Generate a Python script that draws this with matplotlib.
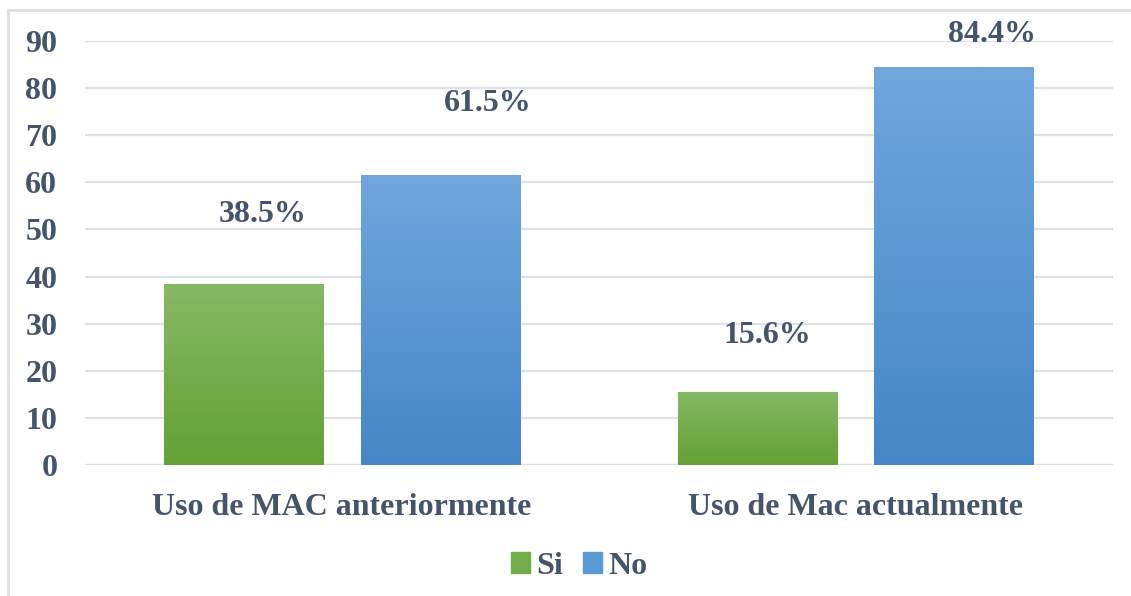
import numpy as np
import matplotlib
matplotlib.use("Agg")
import matplotlib.pyplot as plt
from matplotlib.colors import LinearSegmentedColormap
from matplotlib.lines import Line2D

# Data
categories = ["Uso de MAC anteriormente", "Uso de Mac actualmente"]
si_values = [38.5, 15.6]
no_values = [61.5, 84.4]
si_labels = ["38.5%", "15.6%"]
no_labels = ["61.5%", "84.4%"]
yticks = [0, 10, 20, 30, 40, 50, 60, 70, 80, 90]

text_color = "#44546A"
grid_color = "#DDE1E6"
green_top, green_bottom = "#86B964", "#62A133"
blue_top, blue_bottom = "#6FA7DD", "#4586C6"

plt.rcParams["font.family"] = ["Liberation Serif", "DejaVu Serif"]
plt.rcParams["font.weight"] = "bold"
plt.rcParams["font.size"] = 23

fig = plt.figure(figsize=(11.31, 5.96), dpi=100)
ax = fig.add_axes([0.0752, 0.2198, 0.9088, 0.7114])

x = np.arange(len(categories))
width = 0.311
offset = 0.1915


def gradient_bars(xpos, values, top, bottom, label):
    bars = ax.bar(xpos, values, width, color=bottom, label=label, zorder=2)
    cmap = LinearSegmentedColormap.from_list("g", [bottom, top])
    grad = np.linspace(0, 1, 256).reshape(-1, 1)
    for b in bars:
        x0 = b.get_x()
        h = b.get_height()
        im = ax.imshow(grad, extent=[x0, x0 + b.get_width(), 0, h], origin="lower",
                       cmap=cmap, aspect="auto", zorder=3)
        im.set_clip_path(b)
    return bars


gradient_bars(x - offset, si_values, green_top, green_bottom, "Si")
gradient_bars(x + offset, no_values, blue_top, blue_bottom, "No")

ax.set_xlim(-0.5, 1.5)
ax.set_ylim(0, 90)
ax.set_yticks(yticks)
ax.set_xticks(x)
ax.set_xticklabels(categories)
ax.tick_params(axis="y", length=0, pad=20, colors=text_color)
ax.tick_params(axis="x", length=0, pad=20, colors=text_color)
ax.yaxis.grid(True, color=grid_color, linewidth=1.6, zorder=0)
ax.set_axisbelow(True)
for s in ax.spines.values():
    s.set_visible(False)
ax.axhline(0, color=grid_color, linewidth=1.6, zorder=1)

# value labels, placed like the original (offsets in points from bar top)
si_off = [(14, 50), (7, 40)]
no_off = [(34, 52), (27, 24)]
for i in range(len(categories)):
    ax.annotate(si_labels[i], (x[i] - offset, si_values[i]), xytext=si_off[i],
                textcoords="offset points", ha="center", va="center", color=text_color)
    ax.annotate(no_labels[i], (x[i] + offset, no_values[i]), xytext=no_off[i],
                textcoords="offset points", ha="center", va="center", color=text_color)

leg = fig.legend(handles=[plt.Rectangle((0, 0), 1, 1, color="#72AE48"),
                          plt.Rectangle((0, 0), 1, 1, color="#5B9BD5")],
                 labels=["Si", "No"], loc="center", bbox_to_anchor=(0.512, 0.05),
                 ncol=2, frameon=False, handlelength=0.6, handleheight=0.6,
                 handletextpad=0.2, columnspacing=0.6)
for t in leg.get_texts():
    t.set_color(text_color)

# chart border (only left and top visible in the reference)
fig.add_artist(Line2D([8 / 1131, 8 / 1131], [0, 1 - 10 / 596], color=grid_color, linewidth=2))
fig.add_artist(Line2D([8 / 1131, 1.01], [1 - 10 / 596, 1 - 10 / 596], color=grid_color, linewidth=2))

fig.savefig("out.png", dpi=100)
